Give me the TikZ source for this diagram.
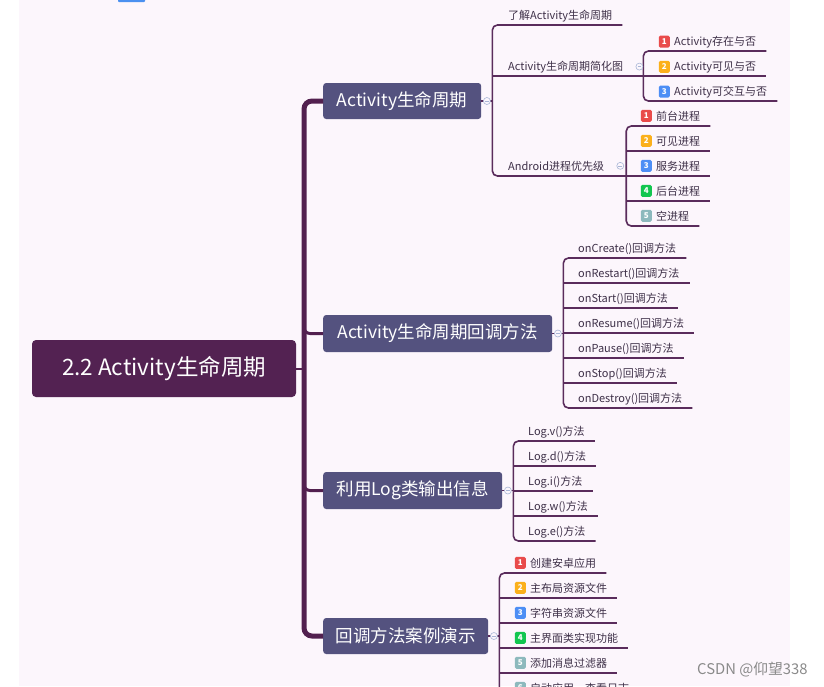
\documentclass[tikz,border=0pt]{standalone}
\usepackage{fontspec}
\setmainfont{Noto Sans CJK SC}
\usetikzlibrary{calc}
\definecolor{bgpink}{HTML}{FCF6FC}
\definecolor{topblue}{HTML}{4A90F0}
\definecolor{rootc}{HTML}{532252}
\definecolor{brc}{HTML}{54527F}
\definecolor{lnc}{HTML}{5A2C5C}
\definecolor{trc}{HTML}{52204F}
\definecolor{txc}{HTML}{3E3048}
\definecolor{foldc}{HTML}{A9B6D6}
\definecolor{wmc}{HTML}{8A8A8A}
\definecolor{pr1}{HTML}{E94B4B}
\definecolor{pr2}{HTML}{FBB01B}
\definecolor{pr3}{HTML}{4D8EF5}
\definecolor{pr4}{HTML}{12C650}
\definecolor{pr5}{HTML}{8DB9BD}
\newcommand\leafn[4]{\node[leaf] (#1) at (#2,#3) {#4};
  \coordinate (#1u) at ($(#1.base west)+(0,6)$);
  \coordinate (#1e) at ($(#1.base east)+(10,6)$);}
\newcommand\bleafn[6]{\leafn{#1}{#2}{#3}{#6}
  \node[badge,fill=#4,anchor=east] (#1b) at ($(#1.west)+(-4,0)$) {#5};}
\begin{document}
\begin{tikzpicture}[x=1pt,y=-1pt,
  rootbox/.style={fill=rootc,rounded corners=4pt,text=white,inner sep=0pt,
    font=\fontsize{22.5}{26}\selectfont},
  brbox/.style={fill=brc,rounded corners=3pt,text=white,inner sep=0pt,
    font=\fontsize{17.5}{21}\selectfont},
  leaf/.style={inner sep=0pt,anchor=base west,text=txc,font=\fontsize{11}{13}\selectfont},
  badge/.style={inner sep=0pt,minimum width=11pt,minimum height=12pt,rounded corners=1.5pt,
    text=white,font=\fontsize{8}{9}\selectfont\bfseries},
  ln/.style={draw=lnc,line width=1.6pt},
  trunk/.style={draw=trc,line width=5pt},
  branch/.style={draw=trc,line width=3pt},
  fold/.style={circle,draw=foldc,fill=bgpink,line width=0.6pt,minimum size=7pt,inner sep=0pt,
    path picture={\draw[foldc,line width=0.6pt]
      ([xshift=1.7pt]path picture bounding box.west) -- ([xshift=-1.7pt]path picture bounding box.east);}},
  wm/.style={text=wmc,inner sep=0pt,font=\fontsize{14.8}{17}\selectfont}]
\useasboundingbox (0,0) rectangle (824,686);
\clip (0,0) rectangle (824,686);
\fill[white] (0,0) rectangle (824,686);
\fill[bgpink] (19,0) rectangle (790,686);
\fill[topblue,rounded corners=1pt] (118,-3) rectangle (145,2);

% main nodes
\node[rootbox,minimum width=264pt,minimum height=57pt] (root) at (164,368.5) {2.2 Activity生命周期};
\node[brbox,minimum width=158pt,minimum height=36pt,anchor=west] (b1) at (323,101) {Activity生命周期};
\node[brbox,minimum width=229pt,minimum height=37pt,anchor=west] (b2) at (323,333.5) {Activity生命周期回调方法};
\node[brbox,minimum width=179pt,minimum height=37pt,anchor=west] (b3) at (323,490.5) {利用Log类输出信息};
\node[brbox,minimum width=165pt,minimum height=36pt,anchor=west] (b4) at (323,636) {回调方法案例演示};

% trunk
\coordinate (tk) at (304,0);
\draw[trunk,rounded corners=8pt] (b1.west) -- (b1.west -| tk) -- (b4.west -| tk) -- (b4.west);
\coordinate (t2) at ($(b2.west -| tk)+(0,-10)$);
\coordinate (t3) at ($(b3.west -| tk)+(0,-10)$);
\draw[branch,rounded corners=6pt] (t2) -- (b2.west -| tk) -- (b2.west);
\draw[branch,rounded corners=6pt] (t3) -- (b3.west -| tk) -- (b3.west);
\draw[draw=trc,line width=2pt] (root.east) -- (root.east -| tk);

% verticals
\coordinate (vA) at ($(b1.east)+(11,0)$);
\coordinate (vBB) at ($(b2.east)+(11,0)$);
\coordinate (vCC) at ($(b3.east)+(11,0)$);
\coordinate (vDD) at ($(b4.east)+(11,0)$);

% group A
\leafn{a1}{508}{19}{了解Activity生命周期}
\leafn{a2}{508}{70}{Activity生命周期简化图}
\leafn{a3}{508}{170}{Android进程优先级}
\coordinate (vB) at ($(a2.base east)+(20,0)$);
\coordinate (vC) at ($(a3.base east)+(22,0)$);
\draw[ln,rounded corners=5pt] (a1e) -- (a1u -| vA) -- (a3u -| vA) -- (a3u -| vC);
\draw[ln] (a2u -| vA) -- (a2u -| vB);
\draw[ln] (b1.east) -- (b1.east -| vA);
\node[fold] (f1) at ($(b1.east)+(5.5,0)$) {};

% group c (under a2)
\bleafn{c1}{674}{45}{pr1}{1}{Activity存在与否}
\bleafn{c2}{674}{70}{pr2}{2}{Activity可见与否}
\bleafn{c3}{674}{95}{pr3}{3}{Activity可交互与否}
\draw[ln,rounded corners=5pt] (c1e) -- (c1u -| vB) -- (c3u -| vB) -- (c3e);
\draw[ln] (c2u -| vB) -- (c2e);
\node[fold] (fa2) at ($(a2.west -| vB)+(-4,0)$) {};

% group d (under a3)
\bleafn{d1}{656}{120}{pr1}{1}{前台进程}
\bleafn{d2}{656}{145}{pr2}{2}{可见进程}
\bleafn{d3}{656}{170}{pr3}{3}{服务进程}
\bleafn{d4}{656}{195}{pr4}{4}{后台进程}
\bleafn{d5}{656}{220}{pr5}{5}{空进程}
\draw[ln,rounded corners=5pt] (d1e) -- (d1u -| vC) -- (d5u -| vC) -- (d5e);
\draw[ln] (d2u -| vC) -- (d2e);
\draw[ln] (d3u -| vC) -- (d3e);
\draw[ln] (d4u -| vC) -- (d4e);
\node[fold] (fa3) at ($(a3.west -| vC)+(-6,0)$) {};

% group B
\leafn{e1}{578}{252}{onCreate()回调方法}
\leafn{e2}{578}{277}{onRestart()回调方法}
\leafn{e3}{578}{302}{onStart()回调方法}
\leafn{e4}{578}{327}{onResume()回调方法}
\leafn{e5}{578}{352}{onPause()回调方法}
\leafn{e6}{578}{377}{onStop()回调方法}
\leafn{e7}{578}{402}{onDestroy()回调方法}
\draw[ln,rounded corners=5pt] (e1e) -- (e1u -| vBB) -- (e7u -| vBB) -- (e7e);
\foreach \n in {e2,e3,e4,e5,e6} {\draw[ln] (\n u -| vBB) -- (\n e);}
\draw[ln] (b2.east) -- (b2.east -| vBB);
\node[fold] (f2) at ($(b2.east)+(5.5,0)$) {};

% group C
\leafn{g1}{528}{435}{Log.v()方法}
\leafn{g2}{528}{460}{Log.d()方法}
\leafn{g3}{528}{485}{Log.i()方法}
\leafn{g4}{528}{510}{Log.w()方法}
\leafn{g5}{528}{535}{Log.e()方法}
\draw[ln,rounded corners=5pt] (g1e) -- (g1u -| vCC) -- (g5u -| vCC) -- (g5e);
\foreach \n in {g2,g3,g4} {\draw[ln] (\n u -| vCC) -- (\n e);}
\draw[ln] (b3.east) -- (b3.east -| vCC);
\node[fold] (f3) at ($(b3.east)+(5.5,0)$) {};

% group D
\bleafn{h1}{530}{567}{pr1}{1}{创建安卓应用}
\bleafn{h2}{530}{592}{pr2}{2}{主布局资源文件}
\bleafn{h3}{530}{617}{pr3}{3}{字符串资源文件}
\bleafn{h4}{530}{642}{pr4}{4}{主界面类实现功能}
\bleafn{h5}{530}{667}{pr5}{5}{添加消息过滤器}
\bleafn{h6}{530}{692}{pr5}{6}{启动应用，查看日志}
\draw[ln,rounded corners=5pt] (h1e) -- (h1u -| vDD) -- (h6u -| vDD) -- (h6e);
\foreach \n in {h2,h3,h4,h5} {\draw[ln] (\n u -| vDD) -- (\n e);}
\draw[ln] (b4.east) -- (b4.east -| vDD);
\node[fold] (f4) at ($(b4.east)+(5.5,0)$) {};

% watermark
\node[wm,anchor=west] (wm) at (697,670) {CSDN @仰望338};
\end{tikzpicture}
\end{document}
